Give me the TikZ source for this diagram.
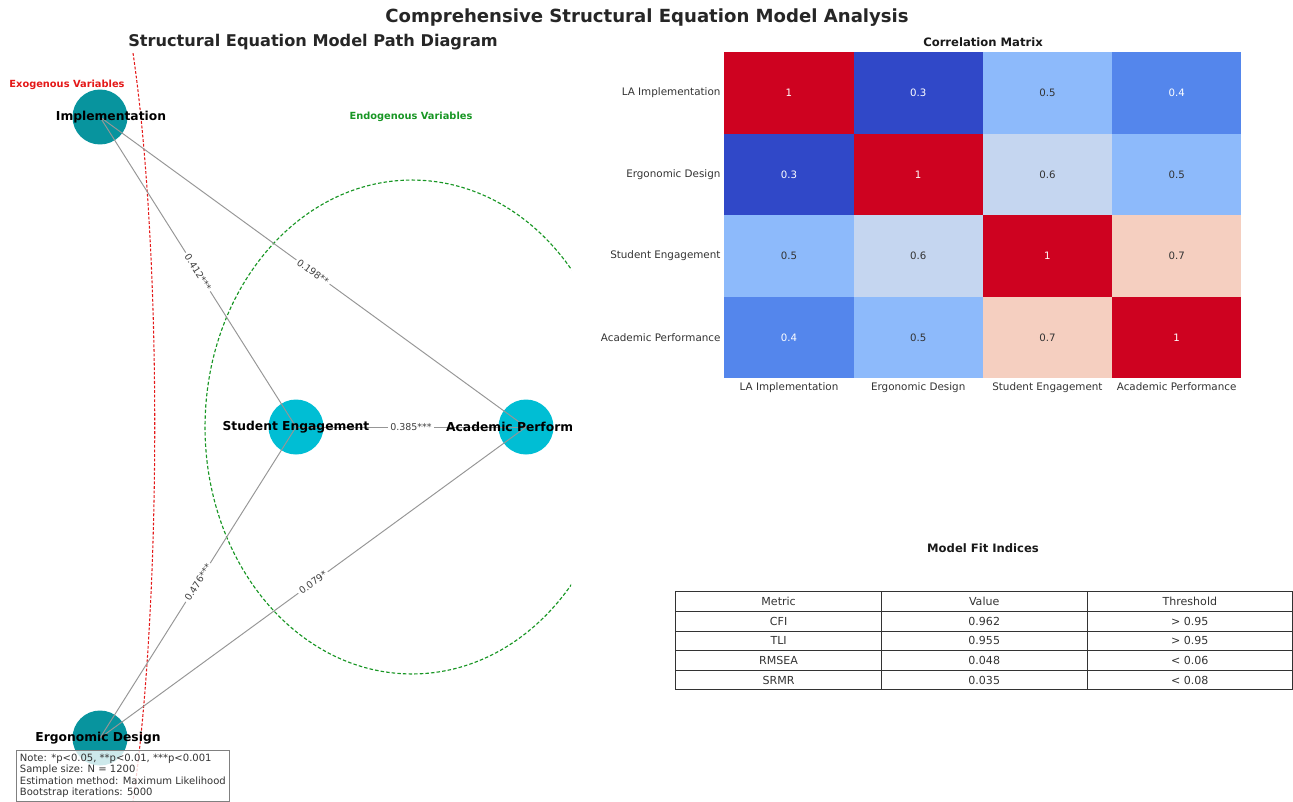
\documentclass[tikz,border=0pt]{standalone}
\usepackage{fontspec}
\setmainfont{DejaVu Sans}
\usetikzlibrary{matrix,positioning}
\definecolor{exoteal}{RGB}{8,148,158}
\definecolor{endocyan}{RGB}{0,190,212}
\definecolor{hmone}{RGB}{206,2,32}
\definecolor{hmthree}{RGB}{48,72,200}
\definecolor{hmfour}{RGB}{84,134,236}
\definecolor{hmfive}{RGB}{141,186,251}
\definecolor{hmsix}{RGB}{197,214,240}
\definecolor{hmseven}{RGB}{245,207,192}
\definecolor{edgegray}{RGB}{150,150,150}
\definecolor{exored}{RGB}{228,24,24}
\definecolor{endogreen}{RGB}{24,150,36}
\tikzset{
  varnode/.style={circle,inner sep=0pt,minimum size=1.1cm},
  varlab/.style={inner sep=0pt,font=\bfseries\fontsize{7}{8}\selectfont},
  grouplab/.style={inner sep=0pt,font=\bfseries\fontsize{5.6}{6.5}\selectfont},
  pathlab/.style={midway,sloped,fill=white,inner sep=1.2pt,text=black!75,
    font=\fontsize{5.4}{6}\selectfont},
  edgeline/.style={draw=edgegray,line width=0.55pt},
  heatcell/.style={minimum width=2.585cm,minimum height=1.63cm,inner sep=0pt,
    outer sep=0pt,text=black!80,font=\fontsize{5.8}{6.5}\selectfont},
  axlab/.style={inner sep=0pt,text=black!80,font=\fontsize{5.9}{6.5}\selectfont},
  fitcell/.style={draw=black!80,line width=0.5pt,minimum width=4.113cm,
    minimum height=0.392cm,inner sep=0pt,outer sep=0pt,text=black!80,
    font=\fontsize{6.3}{7}\selectfont},
  cor1/.style={fill=hmone,text=white},
  cor3/.style={fill=hmthree,text=white},
  cor4/.style={fill=hmfour,text=white},
  cor5/.style={fill=hmfive},
  cor6/.style={fill=hmsix},
  cor7/.style={fill=hmseven}
}

\begin{document}
\begin{tikzpicture}[x=0.02cm,y=-0.02cm,
    maintitle/.style={font=\bfseries\fontsize{10.3}{12}\selectfont,text=black!85},
    paneltitle/.style={font=\bfseries\fontsize{9.2}{10}\selectfont,text=black!85},
    subtitle/.style={font=\bfseries\fontsize{6.6}{7.5}\selectfont,text=black!90},
    notebox/.style={anchor=north west,align=left,draw=black!50,line width=0.5pt,
      fill=white,fill opacity=0.8,text opacity=1,inner sep=2pt,
      font=\fontsize{5.7}{6.5}\selectfont,text=black!80}]
  \useasboundingbox (0,0) rectangle (1293,801);

  \node[maintitle] (title) at (647,18) {Comprehensive Structural Equation Model Analysis};
  \node[paneltitle] (semtitle) at (313,42) {Structural Equation Model Path Diagram};

  \begin{scope}
    \clip (0,53) rectangle (571,801);
    \draw[exored,line width=0.6pt,dash pattern=on 1.6pt off 1pt]
      (133,53) .. controls (162,250) and (162,600) .. (133,801);
    \draw[endogreen,line width=0.65pt,dash pattern=on 2pt off 1.2pt]
      (412,427) ellipse [x radius=4.14cm,y radius=4.94cm];

    \node[varnode,fill=exoteal] (imp) at (100,117) {};
    \node[varnode,fill=exoteal] (erg) at (100,738) {};
    \node[varnode,fill=endocyan] (eng) at (296,427) {};
    \node[varnode,fill=endocyan] (perf) at (526,427) {};

    \draw[edgeline] (imp.center) -- node[pathlab] {0.412***} (eng.center);
    \draw[edgeline] (imp.center) -- node[pathlab] {0.198**} (perf.center);
    \draw[edgeline] (erg.center) -- node[pathlab] {0.476***} (eng.center);
    \draw[edgeline] (erg.center) -- node[pathlab] {0.079*} (perf.center);
    \draw[edgeline] (eng.center) -- node[pathlab] {0.385***} (perf.center);

    \node[varlab] (imp-l) at (111,117) {Implementation};
    \node[varlab] (erg-l) at (98,738) {Ergonomic Design};
    \node[varlab] (eng-l) at (eng) {Student Engagement};
    \node[varlab] (perf-l) at (perf) {Academic Performance};

    \node[grouplab,text=exored] (exo-l) at (67,85) {Exogenous Variables};
    \node[grouplab,text=endogreen] (endo-l) at (411,117) {Endogenous Variables};
  \end{scope}

  \node[notebox] (note) at (16,750) {Note: *p<0.05, **p<0.01, ***p<0.001\\
    Sample size: N = 1200\\Estimation method: Maximum Likelihood\\
    Bootstrap iterations: 5000};

  \node[subtitle] (cmtitle) at (983,42) {Correlation Matrix};
  \matrix (cm) [matrix of nodes,anchor=north west,nodes={heatcell},
      column sep=0pt,row sep=0pt,inner sep=0pt] at (724,52)
  {
    |[cor1]| 1   & |[cor3]| 0.3 & |[cor5]| 0.5 & |[cor4]| 0.4 \\
    |[cor3]| 0.3 & |[cor1]| 1   & |[cor6]| 0.6 & |[cor5]| 0.5 \\
    |[cor5]| 0.5 & |[cor6]| 0.6 & |[cor1]| 1   & |[cor7]| 0.7 \\
    |[cor4]| 0.4 & |[cor5]| 0.5 & |[cor7]| 0.7 & |[cor1]| 1   \\
  };
  \foreach \i/\name in {1/LA Implementation,2/Ergonomic Design,
      3/Student Engagement,4/Academic Performance} {
    \node[axlab,left=2pt of cm-\i-1] (row-\i) {\name};
    \node[axlab,below=2.5pt of cm-4-\i] (col-\i) {\name};
  }

  \node[subtitle] (fittitle) at (983,548) {Model Fit Indices};
  \matrix (fit) [matrix of nodes,anchor=north west,nodes={fitcell},
      column sep=-0.5pt,row sep=-0.5pt,inner sep=0pt] at (675,591)
  {
    Metric & Value & Threshold \\
    CFI    & 0.962 & > 0.95 \\
    TLI    & 0.955 & > 0.95 \\
    RMSEA  & 0.048 & < 0.06 \\
    SRMR   & 0.035 & < 0.08 \\
  };
\end{tikzpicture}
\end{document}
